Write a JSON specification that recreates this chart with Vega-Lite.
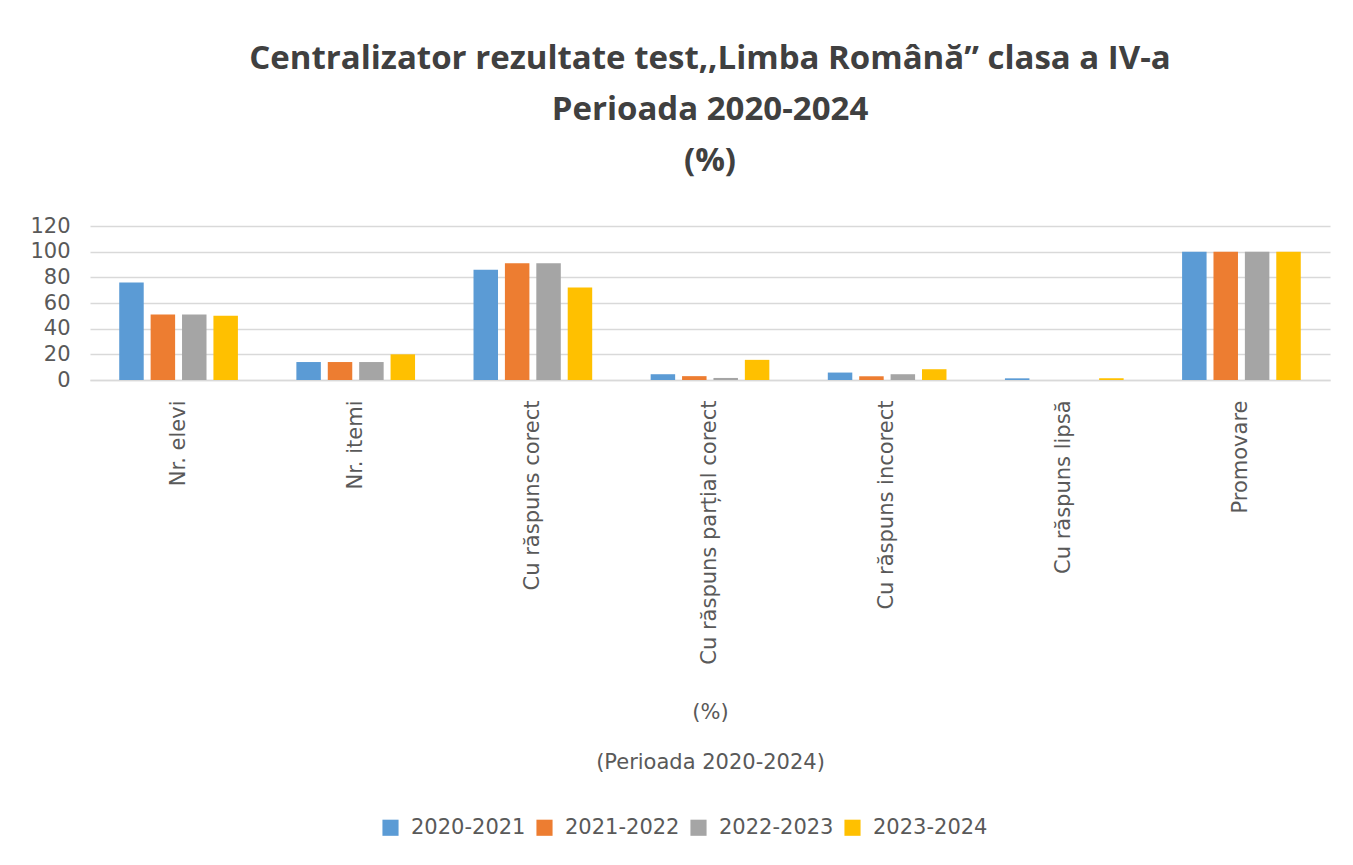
{
  "$schema": "https://vega.github.io/schema/vega-lite/v6.json",
  "width": 1240,
  "height": 154,
  "autosize": {"type": "none"},
  "padding": {"left": 90, "top": 226, "right": 23, "bottom": 485},
  "background": "white",
  "title": {
    "text": ["Centralizator rezultate test,,Limba Română” clasa a IV-a", "Perioada 2020-2024", "(%)"],
    "anchor": "middle",
    "font": "Open Sans",
    "fontSize": 33,
    "fontWeight": "bold",
    "color": "#404040",
    "lineHeight": 51,
    "offset": 37
  },
  "data": {
    "values": [
      {"cat": "Nr. elevi", "year": "2020-2021", "value": 76},
      {"cat": "Nr. elevi", "year": "2021-2022", "value": 51},
      {"cat": "Nr. elevi", "year": "2022-2023", "value": 51},
      {"cat": "Nr. elevi", "year": "2023-2024", "value": 50},
      {"cat": "Nr. itemi", "year": "2020-2021", "value": 14},
      {"cat": "Nr. itemi", "year": "2021-2022", "value": 14},
      {"cat": "Nr. itemi", "year": "2022-2023", "value": 14},
      {"cat": "Nr. itemi", "year": "2023-2024", "value": 20},
      {"cat": "Cu răspuns corect", "year": "2020-2021", "value": 86},
      {"cat": "Cu răspuns corect", "year": "2021-2022", "value": 91},
      {"cat": "Cu răspuns corect", "year": "2022-2023", "value": 91},
      {"cat": "Cu răspuns corect", "year": "2023-2024", "value": 72},
      {"cat": "Cu răspuns parțial corect", "year": "2020-2021", "value": 4.5},
      {"cat": "Cu răspuns parțial corect", "year": "2021-2022", "value": 3},
      {"cat": "Cu răspuns parțial corect", "year": "2022-2023", "value": 1.6},
      {"cat": "Cu răspuns parțial corect", "year": "2023-2024", "value": 15.7},
      {"cat": "Cu răspuns incorect", "year": "2020-2021", "value": 5.8},
      {"cat": "Cu răspuns incorect", "year": "2021-2022", "value": 2.9},
      {"cat": "Cu răspuns incorect", "year": "2022-2023", "value": 4.5},
      {"cat": "Cu răspuns incorect", "year": "2023-2024", "value": 8.4},
      {"cat": "Cu răspuns lipsă", "year": "2020-2021", "value": 1.3},
      {"cat": "Cu răspuns lipsă", "year": "2021-2022", "value": 0},
      {"cat": "Cu răspuns lipsă", "year": "2022-2023", "value": 0},
      {"cat": "Cu răspuns lipsă", "year": "2023-2024", "value": 1.3},
      {"cat": "Promovare", "year": "2020-2021", "value": 100},
      {"cat": "Promovare", "year": "2021-2022", "value": 100},
      {"cat": "Promovare", "year": "2022-2023", "value": 100},
      {"cat": "Promovare", "year": "2023-2024", "value": 100}
    ]
  },
  "mark": {"type": "bar"},
  "encoding": {
    "x": {
      "field": "cat",
      "type": "nominal",
      "sort": ["Nr. elevi", "Nr. itemi", "Cu răspuns corect", "Cu răspuns parțial corect", "Cu răspuns incorect", "Cu răspuns lipsă", "Promovare"],
      "scale": {"paddingInner": 0.33, "paddingOuter": 0.165},
      "axis": {
        "title": ["(%)", "(Perioada 2020-2024)"],
        "titleFont": "DejaVu Sans",
        "titleFontSize": 21,
        "titleFontWeight": "normal",
        "titleColor": "#595959",
        "titleLineHeight": 50,
        "titleBaseline": "top",
        "titleY": 321,
        "labelAngle": -90,
        "labelAlign": "right",
        "labelBaseline": "middle",
        "labelFont": "DejaVu Sans",
        "labelFontSize": 21,
        "labelColor": "#595959",
        "labelPadding": 20,
        "labelLimit": 400,
        "ticks": false,
        "domainColor": "#d9d9d9",
        "domainWidth": 1.5
      }
    },
    "xOffset": {
      "field": "year",
      "type": "nominal",
      "scale": {"paddingInner": 0.22, "paddingOuter": 0}
    },
    "y": {
      "field": "value",
      "type": "quantitative",
      "scale": {"domain": [0, 120]},
      "axis": {
        "title": null,
        "values": [0, 20, 40, 60, 80, 100, 120],
        "labelFont": "DejaVu Sans",
        "labelFontSize": 21,
        "labelColor": "#595959",
        "labelPadding": 20,
        "ticks": false,
        "domain": false,
        "gridColor": "#d9d9d9",
        "gridWidth": 1.5
      }
    },
    "color": {
      "field": "year",
      "type": "nominal",
      "scale": {
        "domain": ["2020-2021", "2021-2022", "2022-2023", "2023-2024"],
        "range": ["#5b9bd5", "#ed7d31", "#a5a5a5", "#ffc000"]
      },
      "legend": {
        "title": null,
        "orient": "none",
        "direction": "horizontal",
        "legendX": 290,
        "legendY": 591,
        "symbolType": "square",
        "symbolSize": 260,
        "symbolStrokeWidth": 0,
        "labelFont": "DejaVu Sans",
        "labelFontSize": 21,
        "labelColor": "#595959",
        "columnPadding": 8,
        "labelOffset": 10
      }
    }
  },
  "config": {
    "view": {"stroke": null}
  }
}
